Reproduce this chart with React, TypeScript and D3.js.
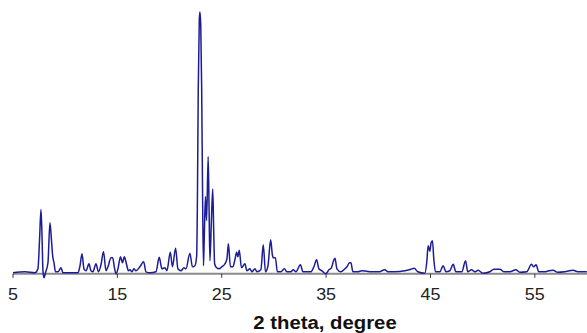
import * as d3 from 'd3';

// 2-theta (degree) positions of the trace
const twoTheta = [
  5.0, 6.15, 7.11, 7.39, 7.54, 7.68, 7.78, 7.87, 7.97, 8.11,
  8.35, 8.54, 8.69, 8.8, 8.93, 9.07, 9.31, 9.6, 9.79, 10.46,
  11.23, 11.42, 11.61, 11.8, 12.0, 12.28, 12.47, 12.66, 12.95, 13.19,
  13.43, 13.67, 13.91, 14.1, 14.39, 14.55, 14.72, 14.87, 15.06, 15.3,
  15.49, 15.66, 15.89, 16.06, 16.21, 16.4, 16.59, 16.78, 17.16, 17.52,
  17.74, 18.12, 18.7, 19.01, 19.27, 19.56, 19.75, 20.07, 20.28, 20.58,
  20.8, 21.09, 21.38, 21.57, 21.95, 22.19, 22.43, 22.6, 22.67, 22.75,
  22.85, 22.91, 22.99, 23.08, 23.17, 23.25, 23.32, 23.44, 23.55, 23.7,
  23.79, 23.87, 24.01, 24.14, 24.23, 24.32, 24.51, 24.73, 25.02, 25.31,
  25.5, 25.64, 25.83, 26.07, 26.26, 26.43, 26.55, 26.68, 26.89, 27.22,
  27.41, 27.7, 27.89, 28.18, 28.37, 28.75, 28.98, 29.19, 29.43, 29.69,
  29.85, 29.95, 30.14, 30.33, 30.67, 31.0, 31.25, 31.63, 31.85, 32.11,
  32.54, 32.78, 33.26, 33.54, 33.83, 34.09, 34.31, 34.6, 34.98, 35.27,
  35.51, 35.71, 35.85, 36.04, 36.42, 36.8, 37.0, 37.23, 37.38, 37.57,
  38.05, 38.43, 38.88, 39.29, 40.15, 40.34, 40.63, 40.92, 41.59, 42.55,
  43.12, 43.44, 43.79, 44.46, 44.64, 44.78, 44.94, 45.06, 45.19, 45.32,
  45.48, 45.9, 46.22, 46.48, 46.86, 47.18, 47.43, 48.01, 48.36, 48.58,
  48.93, 49.25, 49.57, 50.02, 50.69, 51.07, 51.65, 52.03, 52.61, 53.18,
  53.56, 54.23, 54.68, 54.9, 55.12, 55.38, 55.96, 56.34, 56.75, 57.2,
  57.87, 58.67, 59.12, 59.98,
];

// intensity (a.u.) at each position above
const intensity = [
  0, 1, 0, 4, 32, 63, 37, 2, -5, 0,
  10, 50, 32, 17, 10, 1, 1, 5, 0, 0,
  0, 7, 19, 4, 2, 9, 2, 1, 9, 1,
  8, 21, 2, 6, 15, 15, 5, -1, 4, 16,
  10, 16, 8, 2, 3, 1, 4, 2, 6, 11,
  1, 0, 1, 15.5, 4, 5, 2, 20.5, 6, 24.5,
  4, 2, 5, 4, 19.5, 6, 7, 17, 72, 182,
  252, 260, 247, 182, 72, 7, 32, 76, 52, 116,
  62, 12, 52, 83.5, 42, 9, 5, 4, 6, 9,
  14, 29, 6, 6, 13, 20.5, 16, 22.5, 5, 9,
  2, 4, 1, 4, 1, 3, 28, 1, 7, 33,
  18, 15, 15, 1, 1, 4, 1, 1, 3, 1,
  8, 1, 1, 1, 6, 13, 4, 2, -1, 3,
  5, 12, 14.5, 4, 1, 4, 6, 10, 10, 1,
  1, 2, 1.5, 1, 1, 2, 3, 1, 1, 2,
  3.5, 4.5, 1, -0.5, 10, 27, 21.5, 30, 32, 14,
  1, 1, 7, 1, 2, 8.5, 1, 1, 12, 1,
  3, 1, 2.5, -0.5, 1, 3.5, 3.5, 1, 1, 3,
  0.5, 1, 8.5, 6, 8, 1, 1, 2, 2.5, 0.5,
  1, 2.5, 1, 1,
];

const xTicks = [5, 15, 25, 35, 45, 55];
const xTitle = '2 theta, degree';

const W = 587;
const H = 333;

export default function App() {
  const x = d3.scaleLinear().domain([5, 60]).range([13, 587]);
  const y = d3.scaleLinear().domain([0, 260]).range([272.8, 12]);
  const pts = twoTheta.map((t, i) => [t, intensity[i]] as [number, number]);
  const line = d3.line<[number, number]>()
    .x(d => x(d[0]))
    .y(d => y(d[1]))
    .curve(d3.curveMonotoneX);
  const axisY = 273.8;

  return (
    <svg
      width={W}
      height={H}
      style={{ position: 'absolute', left: 0, top: 0, background: '#fff' }}
      fontFamily="'Liberation Sans', Arial, sans-serif"
    >
      <line x1={x(5)} x2={x(60)} y1={axisY} y2={axisY} stroke="#8a8a8a" strokeWidth={2} />
      {xTicks.map(t => (
        <g key={t} transform={`translate(${x(t)},0)`}>
          <line y1={axisY} y2={axisY + 4} stroke="#333" strokeWidth={1} />
          <text transform="translate(0,299.5) scale(1.12,1)" textAnchor="middle" fontSize={16} fill="#222">{t}</text>
        </g>
      ))}
      <path d={line(pts) ?? ''} fill="none" stroke="#1c1c96" strokeWidth={1.5} strokeLinejoin="round" />
      <text transform="translate(325,329) scale(1.13,1)" textAnchor="middle" fontSize={18} fontWeight="bold" fill="#111">
        {xTitle}
      </text>
    </svg>
  );
}
